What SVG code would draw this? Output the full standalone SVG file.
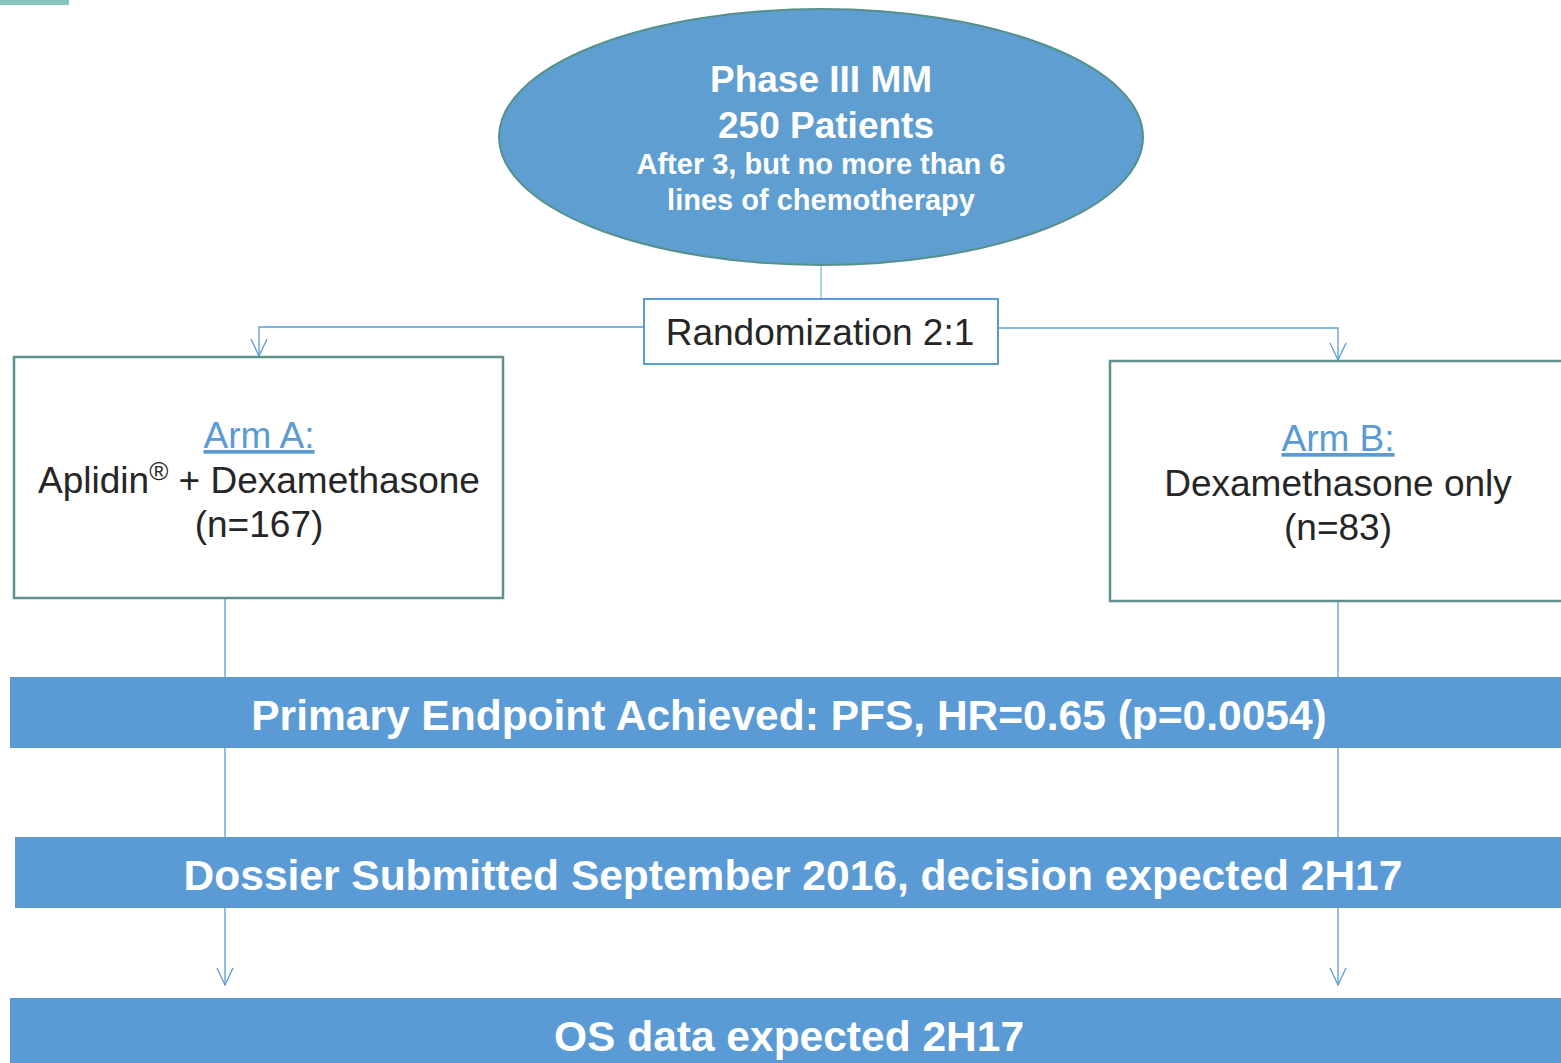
<svg xmlns="http://www.w3.org/2000/svg" width="1561" height="1063" viewBox="0 0 1561 1063">
<style>
.conn{fill:none;stroke:#5b9bd5;stroke-width:1.3}
.arm{fill:#fff;stroke:#5e918d;stroke-width:2.5}
.bar{fill:#5b9bd5}
.bt{font-family:"Liberation Sans",Arial,sans-serif;font-weight:bold;fill:#fff;text-anchor:middle}
.dt{font-family:"Liberation Sans",Arial,sans-serif;fill:#262626;text-anchor:middle;font-size:37px}
.lnk{font-family:"Liberation Sans",Arial,sans-serif;fill:#5b9bd5;text-anchor:middle;text-decoration:underline;font-size:37px}
</style>
<defs>
<marker id="arr" viewBox="-20 -10 22 20" markerWidth="22" markerHeight="20" refX="0" refY="0" orient="auto" markerUnits="userSpaceOnUse">
<path d="M-17,-8 L0,0 L-17,8" fill="none" stroke="#5b9bd5" stroke-width="1.3"/>
</marker>
</defs>
<rect x="0" y="0" width="69" height="5" fill="#86c4bf"/>
<g id="connectors">
<line x1="821" y1="265" x2="821" y2="299" stroke="#7fc4c0" stroke-width="1.3"/>
<path class="conn" d="M644,327 H259 V356" marker-end="url(#arr)"/>
<path class="conn" d="M998,328 H1338 V360" marker-end="url(#arr)"/>
<path class="conn" d="M225,598 V985" marker-end="url(#arr)"/>
<path class="conn" d="M1338,601 V985" marker-end="url(#arr)"/>
</g>
<g id="start">
<ellipse cx="821" cy="137" rx="322" ry="128" fill="#5f9ed0" stroke="#55908b" stroke-width="2"/>
<text class="bt" x="821" y="92" font-size="37">Phase III MM</text>
<text class="bt" x="826" y="138" font-size="37">250 Patients</text>
<text class="bt" x="821" y="174" font-size="29">After 3, but no more than 6</text>
<text class="bt" x="821" y="210" font-size="29">lines of chemotherapy</text>
</g>
<g id="randomization">
<rect x="644" y="299" width="354" height="65" fill="#fff" stroke="#5b9bd5" stroke-width="2"/>
<text class="dt" x="820" y="345">Randomization 2:1</text>
</g>
<g id="armA">
<rect class="arm" x="14" y="357" width="489" height="241"/>
<text class="lnk" x="259" y="448">Arm A:</text>
<text class="dt" x="259" y="493">Aplidin<tspan font-size="26" dy="-13">®</tspan><tspan dy="13"> + Dexamethasone</tspan></text>
<text class="dt" x="259" y="537">(n=167)</text>
</g>
<g id="armB">
<rect class="arm" x="1110" y="361" width="460" height="240"/>
<text class="lnk" x="1338" y="451">Arm B:</text>
<text class="dt" x="1338" y="496">Dexamethasone only</text>
<text class="dt" x="1338" y="540">(n=83)</text>
</g>
<g id="primary">
<rect class="bar" x="10" y="677" width="1551" height="71"/>
<text class="bt" x="789" y="730" font-size="42.5">Primary Endpoint Achieved: PFS, HR=0.65 (p=0.0054)</text>
</g>
<g id="dossier">
<rect class="bar" x="15" y="837" width="1546" height="71"/>
<text class="bt" x="793" y="890" font-size="42.5">Dossier Submitted September 2016, decision expected 2H17</text>
</g>
<g id="os">
<rect class="bar" x="10" y="998" width="1551" height="65"/>
<text class="bt" x="789" y="1051" font-size="42.5">OS data expected 2H17</text>
</g>
</svg>
